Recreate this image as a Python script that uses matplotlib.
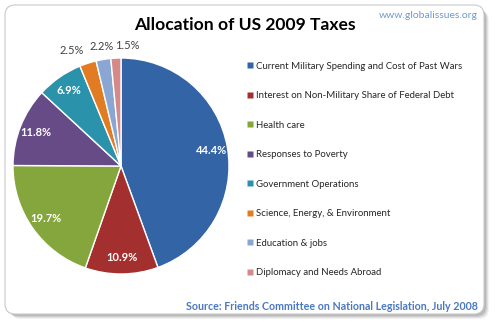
import matplotlib.pyplot as plt
import numpy as np
from matplotlib.patches import FancyBboxPatch
from matplotlib.lines import Line2D

categories = ['Current Military Spending and Cost of Past Wars',
              'Interest on Non-Military Share of Federal Debt',
              'Health care',
              'Responses to Poverty',
              'Government Operations',
              'Science, Energy, & Environment',
              'Education & jobs',
              'Diplomacy and Needs Abroad']
shares = [44.4, 10.9, 19.7, 11.8, 6.9, 2.5, 2.2, 1.5]
colors = ['#3264A6', '#A3302E', '#84A63C', '#674B87', '#2A92AB',
          '#E27C22', '#8AA6D2', '#D58A89']

plt.rcParams['font.family'] = ['Lato', 'DejaVu Sans']

fig = plt.figure(figsize=(5, 3.29), dpi=100)
W, H = 500, 329

# card background with shadow (pixel coordinates)
bg = fig.add_axes([0, 0, 1, 1])
bg.set_xlim(0, W)
bg.set_ylim(H, 0)
bg.axis('off')
for off, a in [(5, 0.10), (4, 0.15), (3, 0.2), (2, 0.25)]:
    bg.add_patch(FancyBboxPatch((6 + off, 6 + off), 478, 308,
                                boxstyle='round,pad=0,rounding_size=10',
                                fc='#808080', ec='none', alpha=a))
bg.add_patch(FancyBboxPatch((5, 5), 479, 309,
                            boxstyle='round,pad=0,rounding_size=10',
                            fc='white', ec='#C8C8C8', lw=0.8))

bg.text(245, 25, 'Allocation of US 2009 Taxes', ha='center', va='center',
        fontsize=12.6, fontweight='bold', color='black')
bg.text(478, 15, 'www.globalissues.org', ha='right', va='center',
        fontsize=7.5, color='#6E9AD4')
bg.text(478, 306, 'Source: Friends Committee on National Legislation, July 2008',
        ha='right', va='center', fontsize=7.7, fontweight='bold', color='#4A78C2')

# pie
ax = fig.add_axes([13 / W, (H - 274) / H, 216 / W, 216 / H])
wedges, texts, autotexts = ax.pie(
    shares, colors=colors, startangle=90, counterclock=False,
    autopct='%1.1f%%', pctdistance=0.85,
    wedgeprops=dict(edgecolor='white', linewidth=1),
    textprops=dict(color='white', fontsize=8, fontweight='bold'))
small = [(w, t) for w, t, v in zip(wedges, autotexts, shares) if v < 3]
aligns = ['right', 'center', 'left']
for (w, t), ha in zip(small, aligns):
    ang = np.deg2rad((w.theta1 + w.theta2) / 2)
    t.set_position((1.12 * np.cos(ang), 1.12 * np.sin(ang)))
    t.set_ha(ha)
    t.set_color('#404040')
    t.set_fontweight('normal')
ax.set_xlim(-1, 1)
ax.set_ylim(-1, 1)
ax.set_aspect('equal')

handles = [Line2D([], [], marker='s', ls='none', markersize=4,
                  markerfacecolor=c, markeredgecolor='none') for c in colors]
fig.legend(handles, categories, loc='upper left',
           bbox_to_anchor=(238 / W, 1 - 53 / H), frameon=False,
           fontsize=6.9, labelspacing=2.14, handlelength=0.6,
           handletextpad=0.35, labelcolor='#262626')

plt.savefig('out.png', dpi=100)
